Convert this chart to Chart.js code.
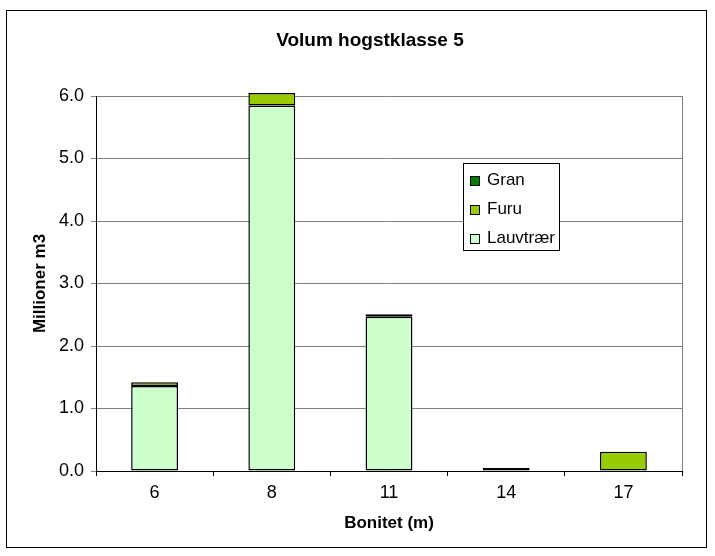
<!DOCTYPE html>
<html>
<head>
<meta charset="utf-8">
<script src="https://cdn.jsdelivr.net/npm/chart.js@4/dist/chart.umd.min.js"></script>
<style>
  html, body { margin: 0; padding: 0; background: #fff; }
  body { width: 715px; height: 556px; position: relative; overflow: hidden; font-family: 'Liberation Sans', Arial, sans-serif; }
  #frame { position: absolute; left: 6px; top: 10px; width: 701px; height: 538px; border: 1px solid #000; box-sizing: border-box; }
  #wrap { position: absolute; left: 0; top: 0; width: 715px; height: 556px; }
  #title { position: absolute; left: 220px; width: 300px; top: 29px; text-align: center; font-weight: bold; font-size: 19px; color: #000; }
  #legend { position: absolute; left: 463px; top: 163px; width: 97px; height: 88px; border: 1px solid #000; background: #fff; box-sizing: border-box; padding-top: 6px; }
  .item { height: 29px; line-height: 20px; font-size: 17px; color: #000; position: relative; padding-left: 23px; }
  .sw { position: absolute; left: 6px; top: 6px; width: 8px; height: 8px; border: 1px solid #000; }
</style>
</head>
<body>
<div id="frame"></div>
<div id="wrap"><canvas id="c" width="715" height="556"></canvas></div>
<div id="title">Volum hogstklasse 5</div>
<div id="legend"></div>
<script>
const categories = ['6', '8', '11', '14', '17'];
const lauvtraer = [1.36, 5.85, 2.47, 0.05, 0];
const furu = [0.06, 0.20, 0.04, 0, 0.31];
const gran = [0, 0, 0, 0, 0];
const yTicks = [0, 1, 2, 3, 4, 5, 6];
const seriesNames = ['Lauvtrær', 'Furu', 'Gran'];
const seriesColors = ['#CCFFCC', '#99CC00', '#008000'];

const FONT = "'Liberation Sans', Arial, sans-serif";

const plotBorder = {
  id: 'plotBorder',
  beforeDraw(chart) {
    const a = chart.chartArea, ctx = chart.ctx;
    ctx.save();
    ctx.strokeStyle = '#808080';
    ctx.lineWidth = 1;
    ctx.beginPath();
    ctx.moveTo(Math.round(a.right) + 0.5, a.top);
    ctx.lineTo(Math.round(a.right) + 0.5, a.bottom);
    ctx.stroke();
    ctx.restore();
  }
};

const seriesData = [lauvtraer, furu, gran];
const chart = new Chart(document.getElementById('c'), {
  type: 'bar',
  data: {
    labels: categories,
    datasets: seriesNames.map((n, i) => ({
      label: n,
      data: seriesData[i].map(v => (v === 0 ? null : v)),
      backgroundColor: seriesColors[i],
      borderColor: '#000',
      borderWidth: 1.5,
      borderSkipped: false,
      barPercentage: 0.4,
      categoryPercentage: 1.0,
      clip: false
    }))
  },
  options: {
    responsive: false,
    animation: false,
    layout: { padding: { left: 28, top: 96, right: 33, bottom: 18 } },
    plugins: { legend: { display: false }, title: { display: false }, tooltip: { enabled: false } },
    scales: {
      x: {
        stacked: true,
        afterFit(s) { s.height = 67; },
        grid: { offset: true, drawOnChartArea: false, tickLength: 5, color: '#000', tickColor: '#000' },
        border: { color: '#000', width: 1 },
        ticks: { color: '#000', font: { family: FONT, size: 18 }, padding: 6 },
        title: { display: true, text: 'Bonitet (m)', color: '#000', font: { family: FONT, size: 17, weight: 'bold' }, padding: { top: 4, bottom: 4 } }
      },
      y: {
        stacked: true,
        min: 0, max: 6,
        afterFit(s) { s.width = 68; },
        afterBuildTicks(s) { s.ticks = yTicks.map(v => ({ value: v })); },
        grid: { color: '#808080', tickLength: 5, tickColor: '#808080' },
        border: { color: '#000', width: 1 },
        ticks: { color: '#000', font: { family: FONT, size: 18 }, padding: 7, callback: v => Number(v).toFixed(1) },
        title: { display: true, text: 'Millioner m3', color: '#000', font: { family: FONT, size: 17, weight: 'bold' }, padding: { top: 2, bottom: 4 } }
      }
    }
  },
  plugins: [plotBorder]
});

// HTML legend built from the chart's datasets (reverse order, like the reference)
const leg = document.getElementById('legend');
chart.data.datasets.slice().reverse().forEach(ds => {
  const it = document.createElement('div');
  it.className = 'item';
  const sw = document.createElement('span');
  sw.className = 'sw';
  sw.style.background = ds.backgroundColor;
  it.appendChild(sw);
  it.appendChild(document.createTextNode(ds.label));
  leg.appendChild(it);
});
</script>
</body>
</html>
